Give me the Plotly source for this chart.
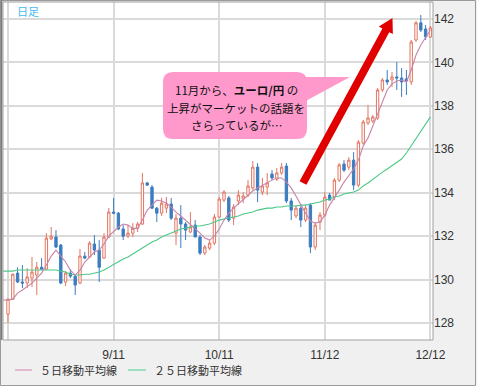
import plotly.graph_objects as go

# ---------------- data (EUR/JPY daily) ----------------
day_index = list(range(89))
ma_index = list(range(-1, 89))
tick_pos = [0, 22, 44, 66, 88]
tick_text = ["", "9/11", "10/11", "11/12", "12/12"]
y_ticks = [128, 130, 132, 134, 136, 138, 140, 142]

opens = [128.41, 129.10, 130.30, 129.89, 129.84, 130.07, 130.21, 130.57, 130.48, 131.87,
         131.96, 131.59, 129.89, 130.30, 130.16, 129.84, 131.08, 131.04, 131.64, 131.36,
         130.99, 131.96, 133.11, 133.06, 132.33, 132.00, 132.14, 132.36, 132.56, 134.45,
         134.26, 133.29, 133.06, 133.29, 133.48, 132.14, 132.83, 132.56, 132.19, 132.51,
         131.96, 131.22, 131.45, 131.68, 132.88, 133.66, 133.76, 132.83, 133.62, 133.71,
         133.89, 134.22, 135.18, 134.03, 134.26, 134.86, 134.63, 134.91, 135.23, 133.62,
         132.93, 133.29, 132.74, 133.43, 131.50, 132.65, 132.97, 133.89, 133.80, 134.58,
         135.32, 135.18, 135.50, 134.35, 136.29, 137.21, 137.30, 137.44, 138.73, 139.19,
         139.19, 139.33, 139.28, 139.24, 139.10, 141.03, 141.82, 141.54, 141.17]
highs = [129.12, 130.28, 130.57, 130.67, 130.53, 131.04, 130.81, 130.99, 132.14, 132.42,
         132.28, 131.64, 130.39, 130.48, 130.21, 131.41, 131.27, 131.77, 132.05, 131.82,
         132.14, 133.30, 133.76, 133.11, 132.51, 132.51, 132.60, 132.65, 134.91, 134.50,
         134.35, 133.34, 133.76, 133.80, 133.76, 133.02, 133.43, 132.65, 133.11, 132.74,
         132.05, 131.59, 131.82, 133.02, 133.80, 134.12, 133.85, 133.48, 134.12, 134.03,
         134.58, 135.46, 135.37, 134.68, 134.91, 135.04, 135.14, 135.37, 135.37, 133.76,
         133.43, 133.38, 133.43, 133.52, 132.65, 133.11, 134.03, 133.99, 134.68, 135.37,
         135.50, 135.64, 135.87, 136.43, 137.35, 138.04, 137.58, 138.82, 139.28, 139.65,
         139.56, 140.02, 139.74, 139.65, 141.03, 141.91, 142.18, 141.72, 141.68]
lows = [128.00, 129.06, 129.84, 129.61, 129.61, 129.66, 129.29, 130.44, 130.44, 131.82,
        131.45, 129.79, 129.70, 130.07, 129.29, 129.79, 130.95, 130.99, 131.13, 129.89,
        130.95, 131.91, 133.02, 132.28, 131.82, 131.91, 131.96, 132.19, 132.51, 134.31,
        133.25, 132.65, 132.93, 133.06, 132.74, 131.59, 131.45, 131.82, 132.14, 131.96,
        131.13, 131.13, 131.36, 131.59, 132.83, 133.57, 132.65, 132.51, 133.43, 133.52,
        133.80, 134.12, 133.57, 133.89, 133.89, 134.58, 134.54, 134.82, 133.52, 132.74,
        132.83, 132.42, 132.65, 131.22, 131.36, 132.28, 132.88, 133.66, 133.66, 134.49,
        134.95, 135.04, 134.12, 134.26, 136.20, 137.12, 137.21, 137.35, 138.64, 138.96,
        138.87, 138.73, 138.41, 138.50, 138.96, 140.94, 141.40, 141.03, 141.12]
closes = [129.10, 130.25, 129.89, 129.84, 130.12, 130.35, 130.57, 130.48, 131.91, 132.00,
          131.50, 129.84, 130.30, 130.16, 129.75, 131.08, 130.99, 131.68, 131.36, 130.57,
          131.96, 133.11, 133.06, 132.33, 132.00, 132.14, 132.36, 132.56, 134.45, 134.35,
          133.29, 133.06, 133.52, 133.48, 132.83, 132.83, 132.56, 132.28, 132.42, 131.96,
          131.22, 131.50, 131.68, 132.88, 133.71, 134.03, 132.74, 133.34, 133.89, 133.85,
          134.31, 135.18, 134.12, 134.31, 134.45, 134.68, 134.91, 135.18, 133.62, 133.20,
          133.29, 132.74, 133.29, 131.50, 132.51, 132.97, 133.80, 133.66, 134.58, 135.28,
          135.04, 135.50, 134.35, 136.33, 137.26, 137.44, 137.49, 138.73, 139.19, 139.10,
          139.33, 139.28, 139.10, 139.14, 140.94, 141.82, 141.49, 141.17, 141.59]

ma5 = [129.06, 129.06, 129.10, 129.38, 129.52, 129.66, 129.84, 130.07, 130.30, 130.67,
       131.08, 131.36, 131.08, 130.81, 130.44, 130.21, 130.44, 130.81, 131.04, 131.27,
       131.36, 131.64, 132.00, 132.19, 132.42, 132.56, 132.51, 132.36, 132.36, 132.74,
       133.20, 133.43, 133.66, 133.62, 133.52, 133.34, 133.11, 132.93, 132.74, 132.56,
       132.36, 132.14, 131.91, 131.82, 132.00, 132.33, 132.74, 133.06, 133.29, 133.48,
       133.66, 133.85, 134.08, 134.22, 134.35, 134.49, 134.58, 134.68, 134.68, 134.49,
       134.22, 133.85, 133.43, 133.06, 132.70, 132.60, 132.65, 132.97, 133.43, 133.76,
       134.12, 134.49, 134.81, 135.09, 135.50, 136.15, 136.52, 137.07, 137.58, 138.18,
       138.73, 139.01, 139.14, 139.19, 139.10, 139.65, 140.34, 140.80, 141.17, 141.49]
ma25 = [130.39, 130.39, 130.39, 130.44, 130.44, 130.44, 130.44, 130.44, 130.44, 130.44,
        130.44, 130.44, 130.39, 130.35, 130.25, 130.21, 130.21, 130.25, 130.25, 130.30,
        130.35, 130.44, 130.57, 130.71, 130.85, 130.95, 131.04, 131.18, 131.31, 131.45,
        131.59, 131.73, 131.82, 131.96, 132.05, 132.14, 132.24, 132.33, 132.37, 132.42,
        132.47, 132.47, 132.51, 132.56, 132.65, 132.74, 132.79, 132.83, 132.88, 132.93,
        133.02, 133.06, 133.11, 133.20, 133.25, 133.29, 133.29, 133.34, 133.34, 133.39,
        133.39, 133.39, 133.43, 133.43, 133.48, 133.52, 133.57, 133.66, 133.71, 133.80,
        133.85, 133.94, 133.99, 134.03, 134.12, 134.31, 134.45, 134.63, 134.77, 134.95,
        135.09, 135.23, 135.37, 135.55, 135.83, 136.15, 136.47, 136.80, 137.16, 137.49]

legend_names = ["５日移動平均線", "２５日移動平均線"]

# ---------------- styling / layout geometry ----------------
W, H = 477, 386
PX0, PX1, PY0, PY1 = 3, 433, 2, 340      # plot area in pixels
UP = "#e27560"
DOWN = "#3b7cc0"
MA5_C = "#c883a8"
MA25_C = "#4cc987"
JP = "Noto Sans CJK JP"


def px(x):
    return (x - PX0) / (PX1 - PX0)


def py(y):
    return (PY1 - y) / (PY1 - PY0)


def poly(points):
    return "M " + " L ".join(f"{px(a):.5f},{py(b):.5f}" for a, b in points) + " Z"


fig = go.Figure()
fig.add_trace(go.Candlestick(
    x=day_index, open=opens, high=highs, low=lows, close=closes,
    increasing=dict(line=dict(color=UP, width=1), fillcolor="white"),
    decreasing=dict(line=dict(color=DOWN, width=1), fillcolor=DOWN),
    whiskerwidth=0, showlegend=False, hoverinfo="skip"))
fig.add_trace(go.Scatter(x=ma_index, y=ma25, mode="lines",
                         line=dict(color=MA25_C, width=1.1), showlegend=False, hoverinfo="skip"))
fig.add_trace(go.Scatter(x=ma_index, y=ma5, mode="lines",
                         line=dict(color=MA5_C, width=1.1), showlegend=False, hoverinfo="skip"))

shapes = []
# outer frame and plot frame
shapes.append(dict(type="rect", xref="paper", yref="paper", x0=px(0.5), x1=px(475.5),
                   y0=py(385.5), y1=py(0.5), line=dict(color="#9a9a9a", width=1)))
shapes.append(dict(type="rect", xref="paper", yref="paper", x0=px(PX0), x1=px(PX1),
                   y0=py(PY1), y1=py(PY0), line=dict(color="#a0a0a0", width=1)))
shapes.append(dict(type="line", xref="paper", yref="paper", x0=px(1.5), x1=px(1.5),
                   y0=py(PY1), y1=py(0), line=dict(color="#7a7a7a", width=1.5)))

# callout bubble (rounded rectangle + tail)
bx0, bx1, by0, by1, r = 163, 307, 72, 139, 10
bubble = (f"M {px(bx0 + r):.5f},{py(by0):.5f} L {px(bx1 - r):.5f},{py(by0):.5f} "
          f"Q {px(bx1):.5f},{py(by0):.5f} {px(bx1):.5f},{py(by0 + r):.5f} "
          f"L {px(bx1):.5f},{py(by1 - r):.5f} "
          f"Q {px(bx1):.5f},{py(by1):.5f} {px(bx1 - r):.5f},{py(by1):.5f} "
          f"L {px(bx0 + r):.5f},{py(by1):.5f} "
          f"Q {px(bx0):.5f},{py(by1):.5f} {px(bx0):.5f},{py(by1 - r):.5f} "
          f"L {px(bx0):.5f},{py(by0 + r):.5f} "
          f"Q {px(bx0):.5f},{py(by0):.5f} {px(bx0 + r):.5f},{py(by0):.5f} Z")
shapes.append(dict(type="path", xref="paper", yref="paper", path=bubble,
                   fillcolor="#ff99cc", line=dict(width=0)))
shapes.append(dict(type="path", xref="paper", yref="paper",
                   path=poly([(296, 77), (350, 77), (302, 103)]),
                   fillcolor="#ff99cc", line=dict(width=0)))

# big red arrow
tail, tip = (303, 183), (392.5, 18)
dx, dy = tip[0] - tail[0], tip[1] - tail[1]
ln = (dx * dx + dy * dy) ** 0.5
ux, uy = dx / ln, dy / ln
nx, ny = -uy, ux
hl, hw, sw = 14, 8, 3.9
hb = (tip[0] - hl * ux, tip[1] - hl * uy)
arrow = [(tail[0] + nx * sw, tail[1] + ny * sw), (hb[0] + nx * sw, hb[1] + ny * sw),
         (hb[0] + nx * hw, hb[1] + ny * hw), tip,
         (hb[0] - nx * hw, hb[1] - ny * hw), (hb[0] - nx * sw, hb[1] - ny * sw),
         (tail[0] - nx * sw, tail[1] - ny * sw)]
shapes.append(dict(type="path", xref="paper", yref="paper", path=poly(arrow),
                   fillcolor="#e00000", line=dict(width=0)))

# legend samples
shapes.append(dict(type="line", xref="paper", yref="paper", x0=px(15), x1=px(32),
                   y0=py(370), y1=py(370), line=dict(color="#e0a6c4", width=1.5)))
shapes.append(dict(type="line", xref="paper", yref="paper", x0=px(128), x1=px(146),
                   y0=py(370), y1=py(370), line=dict(color="#80d8b0", width=1.5)))

ann = []
ann.append(dict(xref="paper", yref="paper", x=px(15), y=py(11), xanchor="left", yanchor="middle",
                text="日足", showarrow=False, font=dict(family=JP, size=11, color="#44bbee")))
lines = ["11月から、<b>ユーロ/円</b> の", "上昇がマーケットの話題を", "さらっているが…"]
for t, yy in zip(lines, [90, 108, 125]):
    ann.append(dict(xref="paper", yref="paper", x=px(236), y=py(yy), xanchor="center",
                    yanchor="middle", text=t, showarrow=False,
                    font=dict(family=JP, size=11.5, color="#111111")))
ann.append(dict(xref="paper", yref="paper", x=px(38), y=py(370), xanchor="left", yanchor="middle",
                text=legend_names[0], showarrow=False, font=dict(family=JP, size=11, color="#333333")))
ann.append(dict(xref="paper", yref="paper", x=px(152), y=py(370), xanchor="left", yanchor="middle",
                text=legend_names[1], showarrow=False, font=dict(family=JP, size=11, color="#333333")))

fig.update_layout(
    width=W, height=H, autosize=False,
    margin=dict(l=PX0, r=W - PX1, t=PY0, b=H - PY1, pad=0),
    paper_bgcolor="#f0f0f0", plot_bgcolor="white",
    shapes=shapes, annotations=ann, showlegend=False,
    font=dict(family="Liberation Sans", size=12, color="#333333"),
    xaxis=dict(range=[-1.04, 88.54], tickmode="array", tickvals=tick_pos, ticktext=tick_text,
               showgrid=True, gridcolor="#dadada", gridwidth=1.5, zeroline=False,
               showline=False, ticks="outside", ticklen=4, tickcolor="rgba(0,0,0,0)",
               rangeslider=dict(visible=False), fixedrange=True,
               tickfont=dict(family="Liberation Sans", size=12, color="#333333")),
    yaxis=dict(range=[127.22, 142.78], side="right", tickmode="array", tickvals=y_ticks,
               showgrid=True, gridcolor="#dadada", gridwidth=1.5, zeroline=False,
               showline=False, ticks="", fixedrange=True,
               tickfont=dict(family="Liberation Sans", size=12, color="#333333")),
)

fig.write_html("out.html", config={"displayModeBar": False},
               post_script="document.body.style.margin='0';")
